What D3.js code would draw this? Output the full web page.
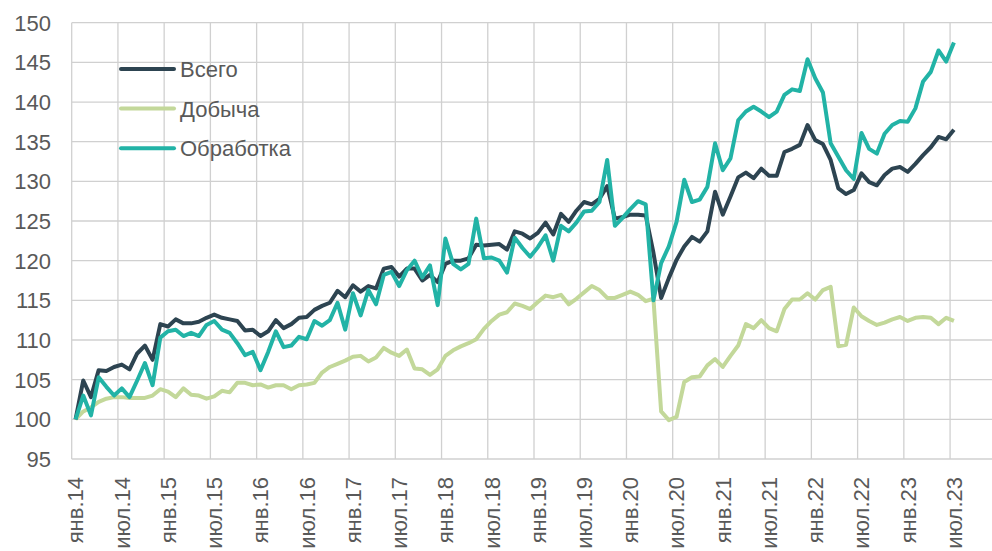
<!DOCTYPE html>
<html>

<head>
  <meta charset="utf-8">
  <title>Промпроизводство</title>
  <style>
    body {
      margin: 0;
      background-color: #fff;
      font-family: 'Liberation Sans', Arial, sans-serif;
    }

    .grid line {
      stroke: #d0d0d0;
      stroke-width: 1.3px;
    }

    .tick-label {
      fill: #595959;
      font-size: 22px;
    }

    .legend text {
      fill: #595959;
      font-size: 22px;
    }

    .series {
      fill: none;
      stroke-width: 4px;
      stroke-linejoin: round;
    }
  </style>
</head>

<body>
  <div id="chart"></div>
  <script src="https://d3js.org/d3.v7.min.js"></script>

  <script>
    // monthly index values, янв.14 = 100, янв.14 .. июл.23
    var vsego = [
      100.0, 104.9, 102.8, 106.2, 106.1, 106.6, 106.9, 106.3, 108.3, 109.3, 107.5, 112.0,
      111.7, 112.6, 112.1, 112.1, 112.3, 112.8, 113.2, 112.8, 112.6, 112.4, 111.2, 111.3,
      110.5, 111.1, 112.5, 111.5, 112.0, 112.8, 112.9, 113.8, 114.3, 114.7, 116.2, 115.4,
      116.9, 116.1, 116.8, 116.5, 119.0, 119.2, 118.0, 119.0, 119.0, 117.5, 118.2, 117.3,
      119.6, 120.0, 120.0, 120.3, 122.0, 121.9, 122.0, 122.1, 121.4, 123.7, 123.4, 122.8,
      123.5, 124.8, 123.3, 125.9, 124.9, 126.3, 127.4, 127.1, 127.8, 129.4, 125.3, 125.5,
      125.8, 125.8, 125.7, 121.0, 115.3, 117.8, 120.1, 121.8, 123.0, 122.4, 123.7, 128.7,
      125.8, 128.1, 130.5, 131.1, 130.4, 131.6, 130.7, 130.7, 133.7, 134.1, 134.6, 137.1,
      135.2, 134.7, 132.7, 129.1, 128.4, 128.9, 131.0, 129.9, 129.5, 130.8, 131.6, 131.8,
      131.2, 132.2, 133.3, 134.3, 135.6, 135.3, 136.5
    ];

    var dobycha = [
      100.0, 101.0, 101.5, 102.2, 102.6, 102.8, 102.8, 102.7, 102.7, 102.7, 103.0, 103.8,
      103.5, 102.8, 103.9, 103.1, 103.0, 102.6, 102.9, 103.6, 103.4, 104.6, 104.6, 104.3,
      104.4, 104.0, 104.3, 104.3, 103.8, 104.3, 104.4, 104.6, 105.9, 106.6, 107.0, 107.4,
      107.9, 108.0, 107.3, 107.8, 109.0, 108.4, 108.0, 108.8, 106.4, 106.3, 105.6, 106.3,
      108.0, 108.7, 109.2, 109.6, 110.1, 111.4, 112.4, 113.2, 113.5, 114.6, 114.3, 113.9,
      114.8, 115.6, 115.4, 115.7, 114.5, 115.2, 116.0, 116.8, 116.3, 115.3, 115.3, 115.7,
      116.1, 115.7, 114.9, 115.2, 101.0, 99.9, 100.3, 104.7, 105.3, 105.4, 106.8, 107.6,
      106.6, 108.0, 109.3, 112.0, 111.5, 112.5, 111.5, 111.1, 113.9, 115.1, 115.1, 115.9,
      115.1, 116.3, 116.7, 109.2, 109.4, 114.1, 113.0, 112.4, 111.9, 112.2, 112.6, 112.9,
      112.4, 112.8, 112.9, 112.8, 112.0, 112.8, 112.4
    ];

    var obrabotka = [
      100.0, 103.0, 100.5, 105.3, 104.1, 103.0, 103.9, 102.8, 104.9, 107.1, 104.3, 110.3,
      111.1, 111.3, 110.5, 110.9, 110.5, 111.9, 112.4, 111.3, 110.9, 109.6, 108.1, 108.5,
      106.2, 108.5, 111.1, 109.1, 109.3, 110.4, 110.1, 112.4, 111.8, 112.5, 114.7, 111.3,
      115.9, 113.1, 116.3, 114.5, 118.2, 118.6, 116.8, 118.8, 120.0, 117.9, 119.4, 114.4,
      122.8, 119.6, 118.9, 119.6, 125.3, 120.3, 120.4, 120.0, 118.5, 122.9, 121.6, 120.5,
      121.7, 123.2, 120.0, 124.4, 123.7, 124.8, 126.2, 126.3, 127.4, 132.7, 124.4, 125.4,
      126.5, 127.5, 127.1, 115.0, 119.7, 121.8, 124.9, 130.2, 127.4, 127.7, 129.3, 134.8,
      131.4, 132.9, 137.7, 138.8, 139.4, 138.8, 138.1, 138.8, 140.9, 141.6, 141.4, 145.4,
      143.0, 141.2, 134.8, 133.1, 131.4, 130.3, 136.1, 134.1, 133.5, 136.0, 137.1, 137.6,
      137.5, 139.2, 142.6, 143.8, 146.5, 145.1, 147.5
    ];

    var tickLabels = [
      'янв.14', 'июл.14', 'янв.15', 'июл.15', 'янв.16', 'июл.16', 'янв.17', 'июл.17',
      'янв.18', 'июл.18', 'янв.19', 'июл.19', 'янв.20', 'июл.20', 'янв.21', 'июл.21',
      'янв.22', 'июл.22', 'янв.23', 'июл.23'
    ];

    var yTicks = [95, 100, 105, 110, 115, 120, 125, 130, 135, 140, 145, 150];

    var seriesNames = ['Всего', 'Добыча', 'Обработка'];
    var seriesColors = ['#2d4451', '#c3d89a', '#22b3a6'];

    var width = 992,
      height = 551;

    var svg = d3.select('#chart').append('svg')
      .attr('width', width)
      .attr('height', height);

    // category axis: 120 monthly slots, labels every 6 months, points in slot centres
    var x = d3.scaleLinear()
      .domain([0, 120])
      .range([71.7, 996.3]);

    var y = d3.scaleLinear()
      .domain([95, 150])
      .range([459, 22.7]);

    // grid
    var grid = svg.append('g').attr('class', 'grid');

    grid.selectAll('line.h')
      .data(yTicks)
      .enter().append('line')
      .attr('class', 'h')
      .attr('x1', x(0))
      .attr('x2', x(120))
      .attr('y1', function(d) { return y(d); })
      .attr('y2', function(d) { return y(d); });

    grid.selectAll('line.v')
      .data(d3.range(0, 121, 6))
      .enter().append('line')
      .attr('class', 'v')
      .attr('x1', function(d) { return x(d); })
      .attr('x2', function(d) { return x(d); })
      .attr('y1', y(150))
      .attr('y2', y(95));

    // y labels
    svg.append('g').selectAll('text')
      .data(yTicks)
      .enter().append('text')
      .attr('class', 'tick-label')
      .attr('x', 51)
      .attr('y', function(d) { return y(d); })
      .attr('dy', '0.36em')
      .attr('text-anchor', 'end')
      .text(function(d) { return d; });

    // x labels, rotated
    svg.append('g').selectAll('text')
      .data(tickLabels)
      .enter().append('text')
      .attr('class', 'tick-label')
      .attr('text-anchor', 'end')
      .attr('dy', '0.36em')
      .attr('transform', function(d, i) {
        return 'translate(' + x(i * 6 + 0.5) + ',' + (y(95) + 18) + ') rotate(-90)';
      })
      .text(function(d) { return d; });

    // lines
    var line = d3.line()
      .x(function(d, i) { return x(i + 0.5); })
      .y(function(d) { return y(d); });

    var allSeries = [vsego, dobycha, obrabotka];
    var drawOrder = [1, 0, 2];

    svg.append('g').selectAll('path')
      .data(drawOrder)
      .enter().append('path')
      .attr('class', 'series')
      .attr('stroke', function(k) { return seriesColors[k]; })
      .attr('d', function(k) { return line(allSeries[k]); });

    // legend
    var legend = svg.append('g').attr('class', 'legend');

    var li = legend.selectAll('g')
      .data(seriesNames)
      .enter().append('g')
      .attr('transform', function(d, i) {
        return 'translate(121,' + (69 + i * 39.6) + ')';
      });

    li.append('line')
      .attr('x1', 0)
      .attr('x2', 53)
      .attr('stroke', function(d, i) { return seriesColors[i]; })
      .attr('stroke-width', 4)
      .attr('stroke-linecap', 'round');

    li.append('text')
      .attr('x', 59)
      .attr('dy', '0.36em')
      .text(function(d) { return d; });
  </script>
</body>

</html>
